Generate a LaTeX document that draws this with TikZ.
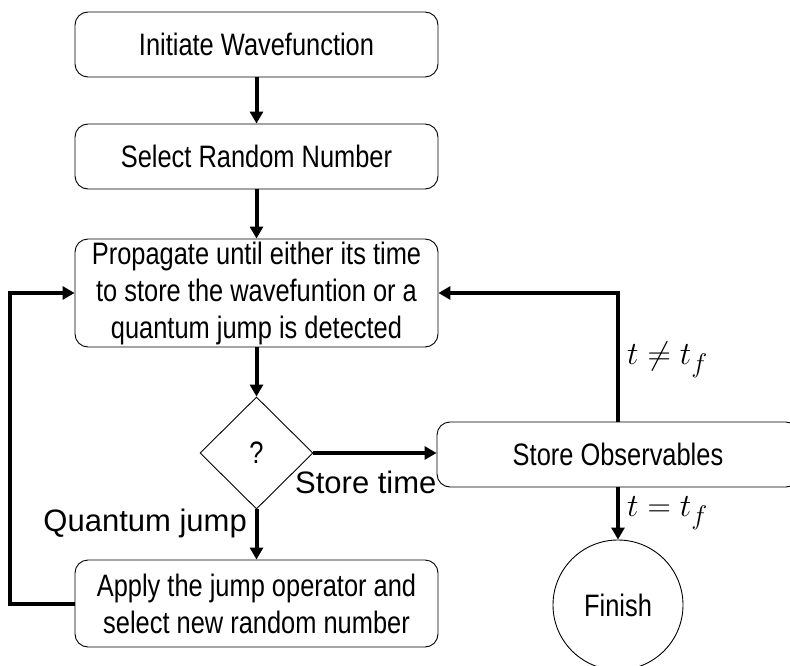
\documentclass[tikz,border=0pt]{standalone}
\usepackage{fontspec}
\usepackage{graphicx}
\setmainfont{Liberation Sans}
\newfontfamily\narrowfont[FakeStretch=0.82]{Liberation Sans}
\usetikzlibrary{shapes.geometric,arrows.meta}
\begin{document}
\begin{tikzpicture}[x=1pt,y=-1pt,
  every node/.style={font=\fontsize{31}{37}\selectfont},
  procbox/.style={draw, line width=0.9pt, rounded corners=13pt, minimum width=363pt, inner sep=0pt, align=center, font=\narrowfont\fontsize{31}{37}\selectfont},
  decbox/.style={draw, diamond, line width=0.9pt, minimum width=113pt, minimum height=112pt, inner sep=0pt, font=\narrowfont\fontsize{31}{37}\selectfont},
  endbox/.style={draw, circle, line width=0.9pt, minimum size=130pt, inner sep=0pt, font=\narrowfont\fontsize{31}{37}\selectfont},
  flow/.style={line width=4pt, -{Triangle[width=13pt,length=12pt]}},
  lbl/.style={inner sep=0pt}]
\clip (0,0) rectangle (790,666);
\node[procbox, minimum height=65pt] (init) at (256.5,44.5) {Initiate Wavefunction};
\node[procbox, minimum height=65pt] (rand) at (256.5,156.5) {Select Random Number};
\node[procbox, minimum height=108pt] (prop) at (256.5,293) {Propagate until either its time\\to store the wavefuntion or a\\quantum jump is detected};
\node[decbox] (dec) at (256.5,453) {?};
\node[procbox, minimum width=362pt, minimum height=65pt] (store) at (618,454.5) {Store Observables};
\node[endbox] (fin) at (618,605) {Finish};
\node[procbox, minimum height=87pt] (apply) at (256.5,603.5) {Apply the jump operator and\\select new random number};
\draw[flow] (init) -- (rand);
\draw[flow] (rand) -- (prop);
\draw[flow] (prop) -- (dec);
\draw[flow] (dec.east) -- (dec.east -| store.west);
\draw[flow] (dec) -- (apply);
\draw[flow] (store) -- (fin);
\draw[flow] (store.north) |- (prop.east);
\draw[flow] (apply.west) -- ++(-65,0) |- (prop.west);
\node[lbl, anchor=east] (qj) at (247,523) {Quantum jump};
\node[lbl, anchor=west] (st) at (295,482) {Store time};
\node[lbl, anchor=west] (ne) at (627,360) {\scalebox{1.3}{$t \neq t_f$}};
\node[lbl, anchor=west] (eq) at (627,513) {\scalebox{1.3}{$t = t_f$}};
\end{tikzpicture}
\end{document}
